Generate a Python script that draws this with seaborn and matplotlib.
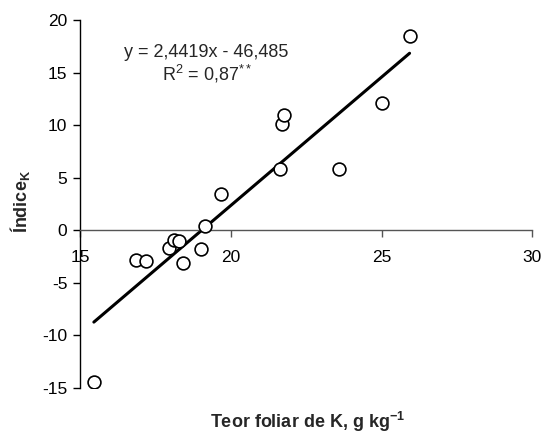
import matplotlib
matplotlib.use("Agg")
import matplotlib.pyplot as plt
import seaborn as sns
import numpy as np
import pandas as pd

# Data
teor_k = [15.46, 16.85, 17.20, 17.95, 18.11, 18.27, 18.40, 19.00, 19.13, 19.69,
          21.62, 21.70, 21.78, 23.60, 25.00, 25.93]
indice_k = [-14.4, -2.8, -2.9, -1.7, -0.9, -1.05, -3.1, -1.8, 0.4, 3.45,
            5.8, 10.1, 11.0, 5.8, 12.1, 18.5]
slope = 2.4419
intercept = -46.485
x_ticks = [15, 20, 25, 30]
y_ticks = [-15, -10, -5, 0, 5, 10, 15, 20]

sns.set_theme(style="white")
plt.rcParams['font.family'] = ['Liberation Sans', 'DejaVu Sans']
plt.rcParams['mathtext.fontset'] = 'custom'
plt.rcParams['mathtext.rm'] = 'Liberation Sans'
plt.rcParams['mathtext.it'] = 'Liberation Sans:italic'
plt.rcParams['mathtext.bf'] = 'Liberation Sans:bold'

FS = 13
TFS = 12.5

df = pd.DataFrame({"x": teor_k, "y": indice_k})
xl = np.array([min(teor_k), max(teor_k)])
line_df = pd.DataFrame({"x": xl, "y": slope * xl + intercept})

fig = plt.figure(figsize=(5.43, 4.34), dpi=100)
ax = fig.add_axes([0.1473, 0.106, 0.833, 0.848])

sns.lineplot(data=line_df, x="x", y="y", ax=ax, color="black", linewidth=2.2)
sns.scatterplot(data=df, x="x", y="y", ax=ax, s=85, facecolor="white",
                edgecolor="black", linewidth=1.2, zorder=3)

ax.set_xlim(15, 30)
ax.set_ylim(-15, 20)
ax.set_xticks(x_ticks)
ax.set_yticks(y_ticks)
ax.set_xticklabels([str(t) for t in x_ticks])
ax.set_yticklabels([str(t) for t in y_ticks])

for s in ["top", "right"]:
    ax.spines[s].set_visible(False)
ax.spines["bottom"].set_position(("data", 0))
ax.spines["bottom"].set_color("#555555")
ax.spines["left"].set_color("black")
ax.spines["bottom"].set_linewidth(1.0)
ax.spines["left"].set_linewidth(1.0)

ax.tick_params(axis="x", direction="out", length=5, width=1, color="#555555",
               pad=9, labelsize=TFS, labelcolor="black", bottom=True)
ax.tick_params(axis="y", direction="out", length=5, width=1, color="black",
               pad=4, labelsize=TFS, labelcolor="black", left=True)
ax.grid(False)

ax.set_xlabel("")
ax.set_ylabel("")
fig.text(0.567, 0.027, r"Teor foliar de K, g kg$^{\mathbf{-1}}$", ha="center",
         va="center", fontsize=FS, fontweight="bold")
fig.text(0.037, 0.535, r"Índice$_{\mathbf{K}}$", ha="center", va="center",
         fontsize=FS, fontweight="bold", rotation=90)

ax.text(19.2, 16.9, "y = 2,4419x - 46,485", ha="center", va="center", fontsize=FS)
ax.text(19.2, 14.85, r"R$^{2}$ = 0,87$^{**}$", ha="center", va="center", fontsize=FS)

fig.savefig("out.png", dpi=100)
